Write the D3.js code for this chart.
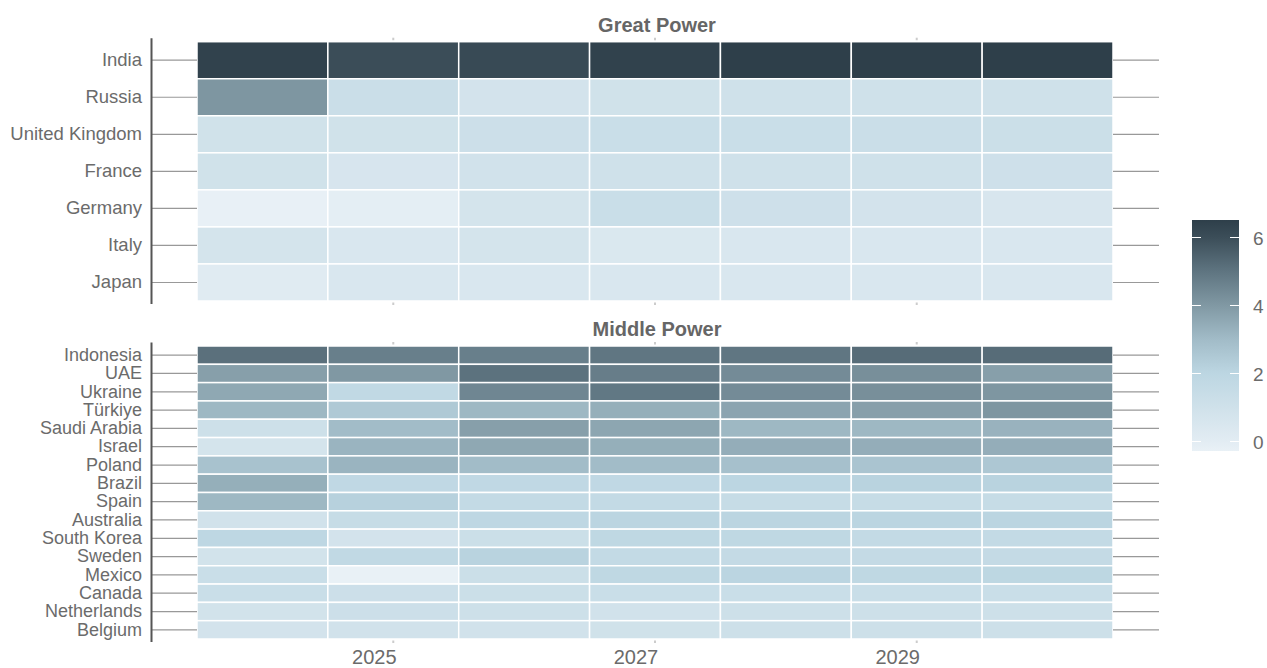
<!DOCTYPE html>
<html>
<head>
<meta charset="utf-8">
<script src="https://cdn.jsdelivr.net/npm/d3@7"></script>
<style>
  body { margin: 0; background: #fff; }
  text { font-family: "Liberation Sans", Arial, Helvetica, sans-serif; }
</style>
</head>
<body>
<div id="chart"></div>
<script>
// years on the x axis
var years = [2024, 2025, 2026, 2027, 2028, 2029, 2030];
var tickYears = [2025, 2027, 2029];

// great powers, one row per country, one value per year
var greatNames = ["India", "Russia", "United Kingdom", "France", "Germany", "Italy", "Japan"];
var greatValues = [
  [6.4, 6.0, 6.1, 6.4, 6.5, 6.5, 6.5],
  [4.05, 1.25, 0.8, 0.95, 1.0, 1.0, 1.0],
  [0.95, 0.95, 1.15, 1.3, 1.3, 1.25, 1.2],
  [0.95, 0.6, 0.9, 1.0, 1.0, 1.0, 1.05],
  [-0.25, -0.1, 0.75, 1.3, 1.05, 0.8, 0.55],
  [0.75, 0.45, 0.75, 0.4, 0.5, 0.5, 0.5],
  [0.1, 0.5, 0.5, 0.5, 0.5, 0.5, 0.5]
];

// middle powers
var middleNames = ["Indonesia", "UAE", "Ukraine", "Türkiye", "Saudi Arabia", "Israel", "Poland",
  "Brazil", "Spain", "Australia", "South Korea", "Sweden", "Mexico", "Canada", "Netherlands", "Belgium"];
var middleValues = [
  [5.1, 4.7, 4.7, 4.95, 4.95, 5.2, 5.2],
  [3.8, 4.0, 5.05, 4.75, 4.35, 4.25, 3.8],
  [3.55, 1.75, 4.5, 4.9, 4.35, 4.25, 4.05],
  [3.1, 2.5, 3.1, 3.35, 3.65, 3.8, 4.05],
  [1.1, 2.95, 3.8, 3.6, 3.1, 3.1, 3.25],
  [0.75, 3.2, 3.55, 3.35, 3.4, 3.4, 3.4],
  [2.75, 3.2, 2.95, 2.95, 2.8, 2.65, 2.55],
  [3.35, 1.8, 1.8, 1.8, 2.0, 2.1, 2.1],
  [3.1, 2.2, 1.65, 1.65, 1.5, 1.5, 1.5],
  [0.9, 1.5, 1.9, 2.05, 2.05, 2.05, 2.05],
  [1.9, 0.8, 1.2, 1.85, 1.85, 1.65, 1.65],
  [0.85, 1.75, 2.1, 1.65, 1.6, 1.6, 1.6],
  [1.3, -0.3, 1.2, 1.85, 2.05, 1.85, 1.95],
  [1.3, 1.15, 1.2, 1.3, 1.3, 1.3, 1.3],
  [0.85, 1.15, 1.1, 0.9, 1.1, 1.1, 1.1],
  [0.8, 0.9, 0.9, 0.95, 1.1, 1.1, 1.1]
];

// colour legend
var legendTicks = [0, 2, 4, 6];
var colorStops = [-0.3, 0, 1, 2, 3, 4, 5, 6, 6.5];
var colorRange = ["#e9f1f6", "#e2ecf3", "#cfe1ea", "#bcd6e2", "#a1bbc7", "#8098a3", "#5e7480", "#3b4d58", "#2e3f4a"];

var W = 1267, H = 668;
var left = 197, right = 1113;

var svg = d3.select("#chart").append("svg")
  .attr("width", W)
  .attr("height", H);

var color = d3.scaleLinear().domain(colorStops).range(colorRange).clamp(true);

var x = d3.scaleBand()
  .domain(years)
  .range([left, right]);

function draw_panel(names, values, top, bottom, title, fontSize) {
  var y = d3.scaleBand().domain(names).range([top, bottom]);
  var g = svg.append("g");

  var cells = [];
  names.forEach(function(n, i) {
    years.forEach(function(yr, j) {
      cells.push({name: n, year: yr, value: values[i][j]});
    });
  });

  g.selectAll("rect.cell")
    .data(cells)
    .enter().append("rect")
    .attr("class", "cell")
    .attr("x", function(d) { return x(d.year); })
    .attr("y", function(d) { return y(d.name); })
    .attr("width", x.bandwidth())
    .attr("height", y.bandwidth())
    .attr("fill", function(d) { return color(d.value); })
    .attr("stroke", "#fff")
    .attr("stroke-width", 1.5);

  // left axis with labels
  var ax = g.append("g")
    .attr("transform", "translate(" + left + ",0)")
    .call(d3.axisLeft(y).tickSize(46).tickPadding(9));
  ax.select(".domain").remove();
  ax.selectAll("line").attr("stroke", "#999").attr("stroke-width", 1.2);
  ax.selectAll("text")
    .attr("fill", "#6b6b6b")
    .style("font-size", fontSize);

  // right ticks
  var ar = g.append("g")
    .attr("transform", "translate(" + right + ",0)")
    .call(d3.axisRight(y).tickSize(46).tickFormat(""));
  ar.select(".domain").remove();
  ar.selectAll("line").attr("stroke", "#999").attr("stroke-width", 1.2);

  // vertical axis line
  g.append("line")
    .attr("x1", 151.5).attr("x2", 151.5)
    .attr("y1", top - 3.5).attr("y2", bottom + 3)
    .attr("stroke", "#555")
    .attr("stroke-width", 2);

  // small year marks above and below the panel
  tickYears.forEach(function(t) {
    var cx = x(t) + x.bandwidth() / 2;
    [[top - 4, top - 1.5], [bottom + 1.5, bottom + 4]].forEach(function(s) {
      g.append("line")
        .attr("x1", cx).attr("x2", cx)
        .attr("y1", s[0]).attr("y2", s[1])
        .attr("stroke", "#ccc")
        .attr("stroke-width", 2);
    });
  });

  g.append("text")
    .attr("x", (left + right) / 2 + 2)
    .attr("y", top - 10)
    .attr("text-anchor", "middle")
    .attr("font-weight", "bold")
    .attr("fill", "#666")
    .style("font-size", "20px")
    .text(title);
}

draw_panel(greatNames, greatValues, 41.7, 301, "Great Power", "18.5px");
draw_panel(middleNames, middleValues, 346, 639, "Middle Power", "18px");

// year labels
svg.selectAll("text.year")
  .data(tickYears)
  .enter().append("text")
  .attr("class", "year")
  .attr("x", function(d) { return x(d) + x.bandwidth() / 2 - 19; })
  .attr("y", 664)
  .attr("text-anchor", "middle")
  .attr("fill", "#6b6b6b")
  .style("font-size", "20px")
  .text(function(d) { return d; });

// colour bar
var cb = {x: 1192, w: 47, top: 220, bottom: 451};
var cy = d3.scaleLinear().domain([-0.3, 6.5]).range([cb.bottom, cb.top]);

var grad = svg.append("defs").append("linearGradient")
  .attr("id", "cbgrad")
  .attr("x1", 0).attr("y1", 1).attr("x2", 0).attr("y2", 0);
grad.selectAll("stop")
  .data(colorStops)
  .enter().append("stop")
  .attr("offset", function(d) { return (d + 0.3) / 6.8; })
  .attr("stop-color", function(d) { return color(d); });

svg.append("rect")
  .attr("x", cb.x).attr("y", cb.top)
  .attr("width", cb.w).attr("height", cb.bottom - cb.top)
  .attr("fill", "url(#cbgrad)");

legendTicks.forEach(function(t) {
  var ty = Math.round(cy(t)) + 0.5;
  svg.append("line")
    .attr("x1", cb.x).attr("x2", cb.x + 9)
    .attr("y1", ty).attr("y2", ty)
    .attr("stroke", "#fff").attr("stroke-width", 1);
  svg.append("line")
    .attr("x1", cb.x + cb.w - 9).attr("x2", cb.x + cb.w)
    .attr("y1", ty).attr("y2", ty)
    .attr("stroke", "#fff").attr("stroke-width", 1);
  svg.append("text")
    .attr("x", 1253)
    .attr("y", ty + 7)
    .attr("fill", "#6b6b6b")
    .style("font-size", "19px")
    .text(t);
});
</script>
</body>
</html>
